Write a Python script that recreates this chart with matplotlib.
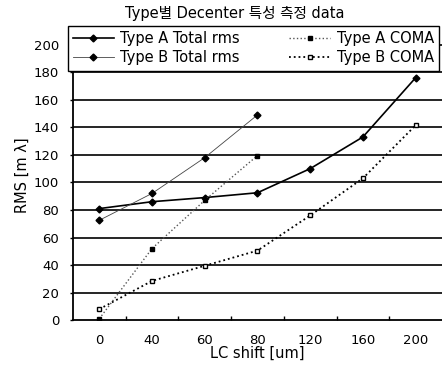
import matplotlib
matplotlib.use('Agg')
import matplotlib.pyplot as plt

plt.rcParams['font.family'] = ['DejaVu Sans', 'Noto Sans CJK KR']

shift = ['0', '40', '60', '80', '120', '160', '200']
a_total = [81, 86, 89, 92.5, 110, 133, 176]
b_total = [72.5, 92, 118, 149]
a_coma = [1, 52, 87, 119.5]
b_coma = [8, 28.5, 39.5, 50.5, 76, 103, 141.5]

fig = plt.figure(figsize=(4.42, 3.68), dpi=100)
ax = fig.add_axes([0.165, 0.13, 0.835, 0.786])

ax.plot(shift, a_total, '-', color='black', lw=1.2, marker='D', ms=3.5,
        mfc='black', label='Type A Total rms')
ax.plot(shift[:4], b_total, '-', color='#444444', lw=0.6, marker='D', ms=3.5,
        mfc='black', mec='black', label='Type B Total rms')
ax.plot(shift[:4], a_coma, ':', color='#555555', lw=1.0, marker='s', ms=3.5,
        mfc='black', mec='black', label='Type A COMA')
ax.plot(shift, b_coma, ':', color='black', lw=1.3, marker='s', ms=3.5,
        mfc='white', mec='black', label='Type B COMA')

ax.set_xlim(-0.5, 6.5)
ax.set_ylim(0, 210)
ax.set_yticks(range(0, 201, 20))
for y in range(20, 201, 20):
    ax.axhline(y, color='black', lw=1.2, zorder=0)

ax.set_xticks([i + 0.5 for i in range(6)], minor=True)
ax.tick_params(axis='x', which='major', length=0, pad=10, labelsize=9.5)
ax.tick_params(axis='x', which='minor', direction='in', length=3, width=1)
ax.tick_params(axis='y', length=2, width=1, labelsize=9.5, pad=8)

for s in ['top', 'right']:
    ax.spines[s].set_visible(False)
ax.spines['left'].set_linewidth(1.3)
ax.spines['bottom'].set_linewidth(1.3)

ax.set_xlabel('LC shift [um]', fontsize=10.5, labelpad=-1)
ax.set_ylabel('RMS [m λ]', fontsize=10.5, labelpad=3)

leg = ax.legend(ncol=2, loc='upper left', bbox_to_anchor=(-0.014, 1.017),
                fontsize=10.5, frameon=True, fancybox=False,
                edgecolor='black', framealpha=1, handlelength=2.8,
                borderpad=0.35, labelspacing=0.3, handletextpad=0.45,
                columnspacing=3.4, borderaxespad=0)
leg.get_frame().set_linewidth(1.0)

fig.text(0.532, 0.962, 'Type별 Decenter 특성 측정 data', ha='center',
         va='center', fontsize=10.5)

fig.savefig('out.png', dpi=100)
